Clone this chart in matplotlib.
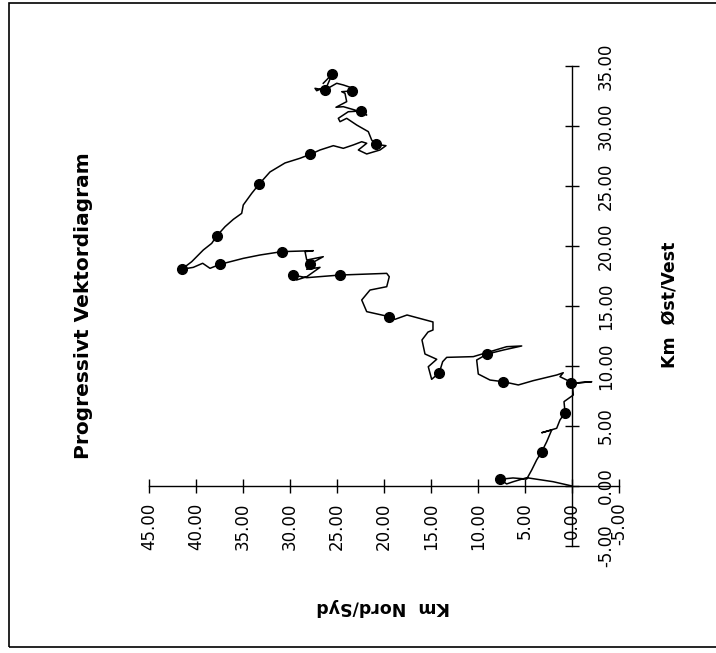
import matplotlib
matplotlib.use("Agg")
import matplotlib.pyplot as plt
from matplotlib.patches import Rectangle
from matplotlib.ticker import FixedLocator, FormatStrFormatter

# progressive vector track, km east/west and km north/south
track_east = [0.0, 0.36, 0.69, 0.36, 0.17, 0.56, 0.67, 0.58, 1.33, 2.17,
              2.86, 3.69, 4.67, 4.44, 4.81, 5.5, 6.11, 7.03, 7.58, 8.28,
              8.56, 8.69, 8.56, 9.11, 9.44, 9.25, 8.78, 8.42, 8.69, 8.83,
              9.33, 10.5, 11.0, 11.33, 11.67, 11.61, 10.78, 10.72, 10.36, 9.44,
              8.89, 9.94, 10.56, 11.0, 12.17, 12.83, 13.0, 13.67, 14.25, 13.89,
              14.11, 14.53, 15.5, 16.33, 16.61, 17.44, 17.72, 17.58, 17.36, 17.58,
              17.17, 17.44, 18.22, 18.06, 18.5, 19.11, 18.83, 19.53, 19.61, 19.53,
              19.25, 18.97, 18.47, 18.14, 18.56, 18.22, 18.06, 18.69, 19.53, 19.67,
              20.22, 20.83, 21.61, 22.22, 22.72, 23.42, 24.39, 25.17, 26.17, 26.92,
              27.31, 27.64, 28.0, 28.36, 28.14, 28.42, 28.69, 28.56, 28.0, 27.67,
              28.0, 28.36, 28.47, 28.83, 29.53, 30.08, 30.64, 30.36, 30.64, 30.92,
              31.19, 31.25, 30.92, 31.33, 31.61, 31.56, 32.03, 32.72, 32.86, 32.92,
              33.14, 33.42, 33.56, 33.0, 33.14, 32.94, 33.28, 34.33, 33.56]
track_north = [0.0, 2.02, 4.82, 6.24, 6.95, 7.66, 6.28, 4.82, 4.29, 3.76,
               3.22, 2.69, 2.16, 3.22, 1.63, 1.28, 0.74, 0.85, -0.14, -0.07,
               0.11, -2.1, -0.14, 1.28, 0.93, 1.63, 4.12, 5.71, 7.31, 8.72,
               9.97, 10.14, 9.01, 7.31, 5.35, 6.95, 10.5, 13.33, 13.76, 14.12,
               14.93, 15.29, 14.39, 15.64, 15.96, 15.32, 14.79, 14.79, 17.55, 18.83,
               19.44, 21.84, 22.37, 21.49, 19.71, 19.44, 19.71, 24.68, 28.22, 29.71,
               29.29, 28.22, 26.81, 28.22, 27.87, 26.46, 28.22, 28.4, 27.52, 30.88,
               33.19, 34.97, 37.45, 38.51, 39.29, 40.29, 41.52, 40.46, 39.39, 39.22,
               38.33, 37.8, 36.91, 36.03, 35.14, 34.97, 34.07, 33.27, 32.13, 30.53,
               28.94, 27.84, 26.81, 25.39, 24.33, 23.27, 22.37, 21.84, 22.73, 21.84,
               20.43, 19.79, 20.85, 21.31, 21.67, 22.9, 23.97, 24.68, 24.86, 24.33,
               23.8, 22.45, 21.84, 23.09, 24.33, 25.11, 23.97, 24.15, 24.5, 23.44,
               23.27, 24.33, 25.03, 26.28, 27.34, 27.16, 26.1, 25.5, 26.46]

# daily positions marked with dots
dot_east = [0.56, 2.86, 6.11, 8.56, 8.69, 11.0, 9.44, 14.11, 17.58, 17.58, 18.5,
            19.53, 18.47, 18.06, 20.83, 25.17, 27.64, 28.47, 31.25, 32.92, 33.0, 34.33]
dot_north = [7.66, 3.22, 0.74, 0.11, 7.31, 9.01, 14.12, 19.44, 24.68, 29.71, 27.87,
             30.88, 37.45, 41.52, 37.8, 33.27, 27.84, 20.85, 22.45, 23.44, 26.28, 25.5]

north_ticks = [-5, 0, 5, 10, 15, 20, 25, 30, 35, 40, 45]
east_ticks = [-5, 0, 5, 10, 15, 20, 25, 30, 35]

plt.rcParams["font.family"] = ["DejaVu Sans"]

W, H = 716, 653
fig = plt.figure(figsize=(W / 100, H / 100), dpi=100)
fig.patch.set_facecolor("white")

# the chart is printed rotated a quarter turn: north runs right-to-left, east runs upward
ax = fig.add_axes([149 / W, 1 - 546 / H, (619 - 149) / W, (546 - 66) / H])
ax.plot(track_north, track_east, color="black", lw=1.1, zorder=2)
ax.plot(dot_north, dot_east, "o", color="black", ms=7, zorder=3)

ax.set_xlim(45, -5)
ax.set_ylim(-5, 35)

for s in ["top", "left"]:
    ax.spines[s].set_visible(False)
ax.spines["bottom"].set_position(("data", 0))
ax.spines["right"].set_position(("data", 0))
ax.spines["bottom"].set_linewidth(1.0)
ax.spines["right"].set_linewidth(1.0)
ax.yaxis.tick_right()

ax.xaxis.set_major_locator(FixedLocator(north_ticks))
ax.yaxis.set_major_locator(FixedLocator(east_ticks))
ax.xaxis.set_major_formatter(FormatStrFormatter("%.2f"))
ax.yaxis.set_major_formatter(FormatStrFormatter("%.2f"))

ax.tick_params(axis="x", direction="inout", length=10, width=1, pad=7,
               labelsize=12, labelrotation=90)
ax.tick_params(axis="y", direction="inout", length=10, width=1, pad=13,
               labelsize=12, labelrotation=90)
for lab in ax.get_yticklabels():
    lab.set_verticalalignment("center")

ax.patch.set_visible(False)

fig.text(84 / W, 1 - 306 / H, "Progressivt Vektordiagram", rotation=90,
         ha="center", va="center", fontsize=14.5, fontweight="bold")
fig.text(670 / W, 1 - 305 / H, "Km  Øst/Vest", rotation=90,
         ha="center", va="center", fontsize=12.5, fontweight="bold")
fig.text(383 / W, 1 - 607 / H, "Km  Nord/Syd", rotation=180,
         ha="center", va="center", fontsize=12.5, fontweight="bold")

# outer frame of the scanned page
fig.patches.append(Rectangle((9 / W, 1 - 647 / H), (730 - 9) / W, (647 - 3) / H,
                             transform=fig.transFigure, fill=False,
                             edgecolor="black", lw=1.2))

fig.savefig("out.png", dpi=100)
